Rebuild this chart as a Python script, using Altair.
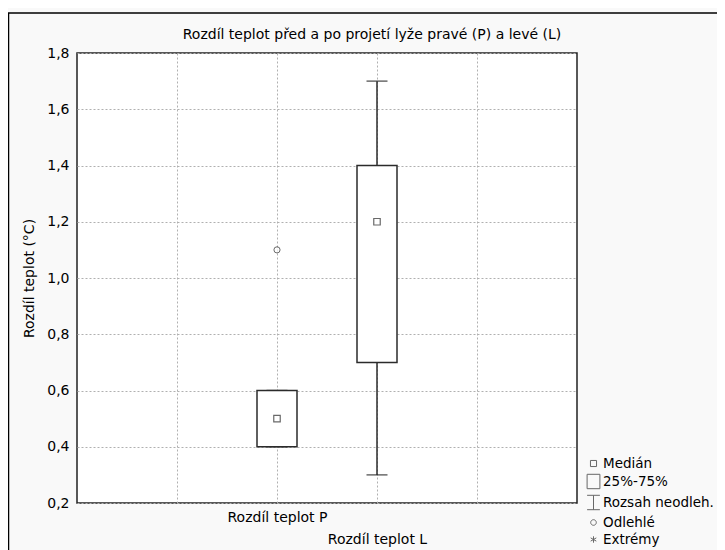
import altair as alt
import pandas as pd

# Data
categories = ["Rozdíl teplot P", "Rozdíl teplot L"]
positions = [2, 3]
q1 = [0.4, 0.7]
q3 = [0.6, 1.4]
medians = [0.5, 1.2]
whisker_lo = [0.4, 0.3]
whisker_hi = [0.6, 1.7]
outlier_pos = [2]
outlier_val = [1.1]
title_text = "Rozdíl teplot před a po projetí lyže pravé (P) a levé (L)"
legend_items = ["Medián", "25%-75%", "Rozsah neodleh.", "Odlehlé", "Extrémy"]
legend_paths = [
    "M-0.38,-0.38H0.38V0.38H-0.38Z",
    "M-0.8,-0.9H0.8V0.9H-0.8Z",
    "M-0.8,-0.9H0.8M0,-0.9V0.9M-0.8,0.9H0.8",
    "M0.35,0A0.35,0.35,0,1,1,-0.35,0A0.35,0.35,0,1,1,0.35,0Z",
    "M0,-0.4V0.4M-0.35,-0.2L0.35,0.2M-0.35,0.2L0.35,-0.2",
]

FONT = "DejaVu Sans"
FS = 14
DARK = "#2b2b2b"

boxes = pd.DataFrame({
    "cat": categories, "pos": positions, "q1": q1, "q3": q3,
    "med": medians, "lo": whisker_lo, "hi": whisker_hi,
})
outliers = pd.DataFrame({"pos": outlier_pos, "val": outlier_val})
legend_df = pd.DataFrame({"item": legend_items, "pos": [None] * 5, "val": [None] * 5})

xscale = alt.Scale(domain=[0, 5], nice=False, zero=False)
yscale = alt.Scale(domain=[0.2, 1.8], nice=False, zero=False)

x_axis = alt.Axis(
    values=[1, 2, 3, 4], title=None, ticks=False, domain=False,
    grid=True, gridDash=[2, 2], gridColor="#b0b0b0", gridWidth=1,
    labelExpr="datum.value == 2 ? 'Rozdíl teplot P' : (datum.value == 3 ? ['', 'Rozdíl teplot L'] : '')",
    labelOverlap=False, labelLineHeight=22, labelPadding=7, labelBaseline="top",
    labelFont=FONT, labelFontSize=FS, labelColor="black",
)
y_axis = alt.Axis(
    values=[0.2, 0.4, 0.6, 0.8, 1.0, 1.2, 1.4, 1.6, 1.8], format=".1f",
    labelExpr="replace(datum.label, '.', ',')",
    title="Rozdíl teplot (°C)", titleFont=FONT, titleFontSize=FS, titleFontWeight="normal",
    titleColor="black", titlePadding=10,
    ticks=False, domain=False, grid=True, gridDash=[2, 2], gridColor="#b0b0b0", gridWidth=1,
    labelFont=FONT, labelFontSize=FS, labelColor="black", labelPadding=8,
)

base = alt.Chart(boxes)

frame = alt.Chart(pd.DataFrame({"a": [0]})).mark_rect(
    fill=None, stroke="black", strokeWidth=1.5, clip=False
).encode(
    x=alt.value(-68.5), x2=alt.value(700), y=alt.value(-40), y2=alt.value(600)
)

title = alt.Chart(pd.DataFrame({"t": [title_text]})).mark_text(
    font=FONT, fontSize=FS, color="black", align="center", baseline="middle"
).encode(text="t:N", x=alt.value(295), y=alt.value(-18))

grid_layer = base.mark_point(opacity=0).encode(
    x=alt.X("pos:Q", scale=xscale, axis=x_axis),
    y=alt.Y("med:Q", scale=yscale, axis=y_axis),
)

whisk_low = base.mark_rule(color=DARK, strokeWidth=1.5).encode(
    x="pos:Q", y="lo:Q", y2="q1:Q"
)
whisk_high = base.mark_rule(color=DARK, strokeWidth=1.5).encode(
    x="pos:Q", y="q3:Q", y2="hi:Q"
)
cap_low = base.mark_tick(color=DARK, orient="horizontal", size=21, thickness=1.5).encode(
    x="pos:Q", y="lo:Q"
)
cap_high = base.mark_tick(color=DARK, orient="horizontal", size=21, thickness=1.5).encode(
    x="pos:Q", y="hi:Q"
)
box = base.transform_calculate(
    xl="datum.pos - 0.2", xr="datum.pos + 0.2"
).mark_rect(fill="white", stroke=DARK, strokeWidth=1.5).encode(
    x="xl:Q", x2="xr:Q", y="q1:Q", y2="q3:Q"
)
median = base.mark_point(shape="square", size=42, filled=True, fill="white",
                         stroke=DARK, strokeWidth=1.2).encode(
    x="pos:Q", y="med:Q"
)
outlier = alt.Chart(outliers).mark_point(shape="circle", size=38, filled=True, fill="white",
                                         stroke=DARK, strokeWidth=1).encode(
    x="pos:Q", y="val:Q"
)
legend_layer = alt.Chart(legend_df).mark_point(filled=False, color=DARK, strokeWidth=1).encode(
    x="pos:Q", y="val:Q",
    shape=alt.Shape("item:N", scale=alt.Scale(domain=legend_items, range=legend_paths),
                    legend=alt.Legend(title=None, orient="none", legendX=508, legendY=402,
                                      symbolSize=256, symbolStrokeWidth=1, symbolStrokeColor=DARK,
                                      symbolFillColor="transparent", labelFont=FONT, labelFontSize=13.5,
                                      labelColor="black", rowPadding=2, labelOffset=1, padding=0)),
)

chart = alt.layer(
    frame, title, grid_layer, whisk_low, whisk_high, cap_low, cap_high, box, median, outlier, legend_layer
).properties(
    width=500, height=450,
    autosize=alt.AutoSizeParams(type="none"),
    padding={"left": 69, "top": 45, "right": 140, "bottom": 47},
    background="#f9f9f9",
).configure_view(
    stroke="#222", strokeWidth=1.5, fill="white"
)

chart.save("out.html", embed_options={"renderer": "svg", "actions": False})
